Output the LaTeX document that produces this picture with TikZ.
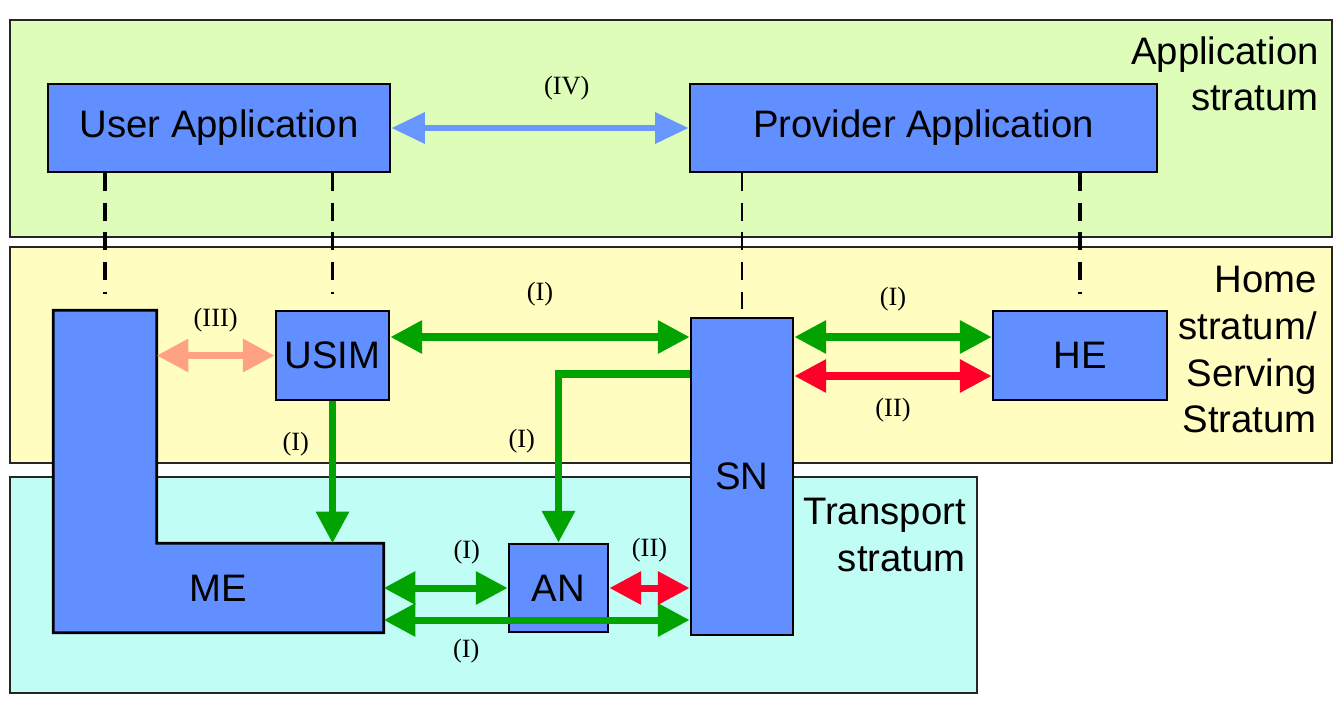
\documentclass[tikz,border=0pt]{standalone}
\usepackage{fontspec}
\setmainfont{Liberation Sans}
\newfontfamily\lblfont{Liberation Serif}
\usepackage{tikz}
\usetikzlibrary{positioning}
\usetikzlibrary{calc}
\usetikzlibrary{arrows.meta}

\definecolor{unitblue}{RGB}{97,143,255}
\definecolor{appgreen}{RGB}{221,253,184}
\definecolor{homeyellow}{RGB}{255,253,192}
\definecolor{transcyan}{RGB}{192,253,245}
\definecolor{linkgreen}{RGB}{0,163,0}
\definecolor{linkred}{RGB}{255,0,40}
\definecolor{linksalmon}{RGB}{255,162,130}
\definecolor{linkblue}{RGB}{105,150,255}

\begin{document}
\begin{tikzpicture}[
    font=\fontsize{10.9}{13.3}\selectfont,
    ]
% -------------------------------------------------
\tikzset{
  stratum/.style={draw=black!85, line width=0.8pt, inner sep=0pt},
  stratlbl/.style={anchor=north east, align=right, inner sep=0pt},
  unit/.style={draw, fill=unitblue, line width=0.8pt, inner sep=0pt},
  mepart/.style={fill=unitblue, inner sep=0pt},
  lbl/.style={font=\lblfont\fontsize{7.5}{8}\selectfont, inner sep=0pt},
  tip/.style={arrows={Triangle[length=9pt,width=9pt]-Triangle[length=9pt,width=9pt]}},
  link/.style={line width=2pt, tip},
  uplink/.style={line width=2pt, arrows={-Triangle[length=9pt,width=9pt]}},
  tie/.style={line width=1.1pt, dash pattern=on 5pt off 3.4pt},
  thintie/.style={line width=0.6pt, dash pattern=on 5pt off 3.4pt}
}
\useasboundingbox (0,0) rectangle (13.43,7.09);
% -------------------------------------------------
% Strata
\node [stratum, fill=appgreen, minimum width=13.22cm, minimum height=2.17cm] (app) at (6.71,5.805) {};
\node [stratum, fill=homeyellow, minimum width=13.22cm, minimum height=2.16cm] (home) at (6.71,3.54) {};
\node [stratum, fill=transcyan, minimum width=9.67cm, minimum height=2.16cm] (trans) at (4.935,1.24) {};

\node [stratlbl] (applbl) at ([xshift=-1.4mm, yshift=-1.7mm]app.north east) {Application\\stratum};
\node [stratlbl] (homelbl) at ([xshift=-1.6mm, yshift=-2mm]home.north east) {Home\\stratum/\\Serving\\Stratum};
\node [stratlbl] (translbl) at ([xshift=-1.2mm, yshift=-2.2mm]trans.north east) {Transport\\stratum};

% -------------------------------------------------
% Placing the units
\node [unit, minimum width=3.42cm, minimum height=0.88cm] (ua) at (2.19,5.81) {User Application};
\node [unit, minimum width=4.67cm, minimum height=0.88cm] (pa) at (9.235,5.81) {Provider Application};
\node [unit, minimum width=1.13cm, minimum height=0.89cm] (usim) at (3.325,3.535) {USIM};
\node [unit, minimum width=1.74cm, minimum height=0.89cm] (he) at (10.80,3.535) {HE};
\node [unit, minimum width=1.02cm, minimum height=3.17cm] (sn) at (7.42,2.325) {SN};
\node [unit, minimum width=0.99cm, minimum height=0.88cm] (an) at (5.585,1.21) {AN};

\node [mepart, minimum width=1.02cm, minimum height=2.43cm] (mebar) at (1.05,2.765) {};
\node [mepart, minimum width=3.29cm, minimum height=0.88cm] (me) at (2.185,1.21) {ME};
\draw [line width=0.8pt] (mebar.north west) -- (mebar.north east) -- (mebar.east |- me.north)
  -- (me.north east) -- (me.south east) -- (me.south west) -- cycle;

% -------------------------------------------------
% Dashed ties between strata
\draw [tie] (ua.south -| mebar.north) -- ([yshift=1.6mm]mebar.north);
\draw [tie] (ua.south -| usim.north) -- ([yshift=1.6mm]usim.north);
\draw [thintie] (pa.south -| sn.north) -- (sn.north);
\draw [tie] (pa.south -| he.north) -- ([yshift=1.6mm]he.north);

% -------------------------------------------------
% Links
\coordinate (usimhi) at ([yshift=1.85mm]usim.east);
\coordinate (snhi) at ([yshift=1.85mm]he.west);
\coordinate (snlo) at ([yshift=-2.05mm]he.west);
\coordinate (snbend) at ([yshift=10.25mm]sn.west);
\coordinate (melo) at ([yshift=-3.2mm]me.east);

\draw [line width=1.9pt, linkblue, arrows={Triangle[length=9.5pt,width=8.5pt]-Triangle[length=9.5pt,width=8.5pt]}]
  (ua.east) -- node [lbl, text=black, above=2.5mm, pos=0.59] (ivlbl) {(IV)} (pa.west);
\draw [link, linksalmon] (usim.west -| mebar.east) -- node [lbl, text=black, above=2mm] (iiilbl) {(III)} (usim.west);
\draw [link, linkgreen] (usimhi) -- node [lbl, text=black, above=2.7mm] (ilbla) {(I)} (usimhi -| sn.west);
\draw [link, linkgreen] (snhi -| sn.east) -- node [lbl, text=black, above=2.2mm] (ilblb) {(I)} (snhi);
\draw [link, linkred] (snlo -| sn.east) -- node [lbl, text=black, below=1.9mm] (iilbla) {(II)} (snlo);
\draw [uplink, linkgreen] (usim.south) -- node [lbl, text=black, left=2mm, pos=0.3] (ilblc) {(I)} (usim.south |- me.north);
\draw [uplink, linkgreen] (snbend) -| node [lbl, text=black, left=2mm, pos=0.7] (ilbld) {(I)} (an.north);
\draw [link, linkgreen] (me.east) -- node [lbl, text=black, above=2mm, pos=0.67] (ilble) {(I)} (an.west);
\draw [link, linkgreen] (melo) -- node [lbl, text=black, below=1.6mm, pos=0.27] (ilblf) {(I)} (melo -| sn.west);
\draw [link, linkred] (an.east) -- node [lbl, text=black, above=2.2mm] (iilblb) {(II)} (an.east -| sn.west);

\end{tikzpicture}
\end{document}
